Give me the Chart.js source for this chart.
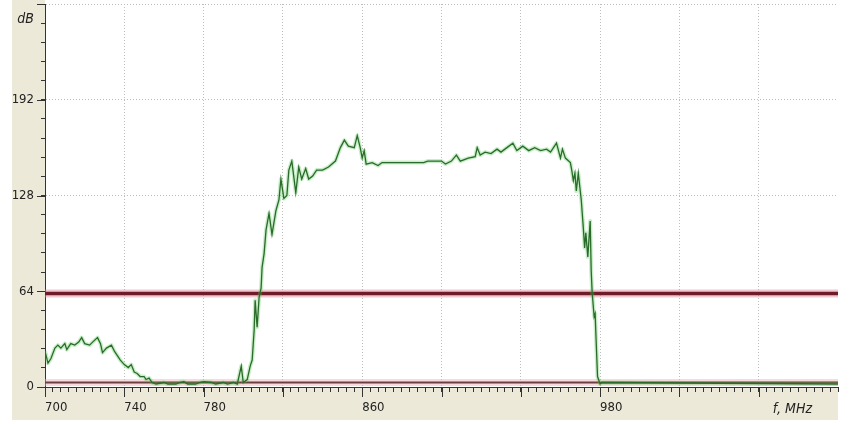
<!DOCTYPE html>
<html>
<head>
<meta charset="utf-8">
<script src="https://cdn.jsdelivr.net/npm/chart.js@4/dist/chart.umd.min.js"></script>
<style>
  html, body { margin: 0; padding: 0; background: #fff; }
  #wrap { width: 849px; height: 424px; position: relative; }
</style>
</head>
<body>
<div id="wrap"><canvas id="spectrum"></canvas></div>
<script>
// Spectrum trace (MHz -> dB)
const freqs = [
  700, 701.5, 703, 705, 706.5, 708, 710, 711, 713, 715, 717, 718.5, 720, 722.5, 724, 726.5, 728, 729,
  731, 733.5, 735, 736.5, 738, 740, 742, 743.5, 745, 746.5, 748, 750, 751, 752.5, 754, 756, 760, 762,
  766, 768, 770, 772, 776, 778, 780, 784, 786, 790, 792, 795, 797, 799, 800, 802, 803.5, 804.5, 805.5,
  806, 807, 808, 809, 809.5, 810.5, 811.5, 813, 814.5, 816.5, 818, 819, 820.5, 822, 823, 824.5, 826.5,
  828, 829.5, 831.5, 833, 835, 837, 840, 843, 846.5, 849, 851, 853, 856, 857.5, 859, 860, 861, 862,
  865, 868, 870, 891, 893, 900, 902, 905, 907.5, 909.5, 913.5, 917, 918, 919.5, 922, 925, 928, 930,
  933, 936, 938, 941, 944, 947, 950, 953, 955, 958, 960, 961, 962.5, 965, 965.7, 966.5, 967.3, 968,
  969, 970.5, 971.5, 972.2, 972.8, 973.8, 975, 975.5, 976, 977, 977.5, 978, 978.7, 980, 981, 1100
];
const levels = [
  24, 16, 19, 26, 28, 26, 29, 25, 29, 28, 30, 33, 29, 28, 30, 33, 29, 23,
  26, 28, 24, 21, 18, 15, 13, 15, 10, 9, 7, 7, 5, 6, 3, 2, 3, 2,
  2, 3, 3.5, 2, 2, 3, 3.5, 3, 2, 3, 2, 3, 2, 14, 3, 5, 14, 18, 38,
  58, 40, 60, 66, 80, 89, 105, 116, 102, 118, 125, 139, 126, 128, 145, 151, 130,
  147, 139, 146, 139, 141, 145, 145, 147, 151, 160, 165, 161, 160, 168, 160, 153, 158, 149,
  150, 148, 150, 150, 151, 151, 149, 151, 155, 151, 153, 154, 160, 155, 157, 156, 159, 157,
  160, 163, 158, 161, 158, 160, 158, 159, 157, 163, 153, 159, 153, 150, 145, 138, 143, 131,
  143, 125, 107, 93, 103, 87, 111, 78, 63, 47, 49, 31, 7, 2, 3, 2
];

// Horizontal reference lines
const thresholdLevel = 62.5;
const floorLevel = 3;

// Axes
const xRange = [700, 1100];
const yRange = [0, 256];
const xMinorStep = 4;
const xMajorStep = 40;
const yMinorStep = 12.8;
const yMajorStep = 64;
const xLabels = [700, 740, 780, 860, 980];
const yLabels = [0, 64, 128, 192];
const xGridValues = [740, 780, 820, 860, 900, 940, 980, 1020, 1060];
const yGridValues = [128, 192, 256];
const xTitle = "f, MHz";
const yTitle = "dB";

Chart.defaults.font.family = '"Liberation Sans Narrow", "DejaVu Sans Condensed", "Liberation Sans", sans-serif';
Chart.defaults.font.size = 13;
Chart.defaults.color = "#222";

const near = (v, list) => list.some((t) => Math.abs(t - v) < 0.01);
const trace = freqs.map((f, i) => ({ x: f, y: levels[i] }));
const flat = (lvl) => xRange.map((f) => ({ x: f, y: lvl }));

// Beige frame + white plot area, long major ticks, axis titles
const framePlugin = {
  id: "frame",
  beforeDraw(chart) {
    const { ctx, chartArea: a } = chart;
    ctx.save();
    ctx.fillStyle = "#fff";
    ctx.fillRect(0, 0, chart.width, chart.height);
    ctx.fillStyle = "#ece9d8";
    ctx.fillRect(a.left - 33, 0, a.right - a.left + 33, a.bottom + 33);
    ctx.fillStyle = "#fff";
    ctx.fillRect(a.left, 0, a.right - a.left, a.bottom);
    ctx.restore();
  },
  afterDraw(chart) {
    const { ctx, chartArea: a, scales } = chart;
    ctx.save();
    ctx.strokeStyle = "#333";
    ctx.lineWidth = 1;
    ctx.beginPath();
    for (let v = xRange[0]; v < xRange[1]; v += xMajorStep) {
      const px = Math.round(scales.x.getPixelForValue(v)) + 0.5;
      ctx.moveTo(px, a.bottom);
      ctx.lineTo(px, a.bottom + 10);
    }
    for (let v = yRange[0]; v <= yRange[1]; v += yMajorStep) {
      const py = Math.round(scales.y.getPixelForValue(v)) + 0.5;
      ctx.moveTo(a.left - 8, py);
      ctx.lineTo(a.left, py);
    }
    ctx.stroke();
    ctx.fillStyle = "#222";
    ctx.font = 'italic 14px "Liberation Sans Narrow", "DejaVu Sans Condensed", sans-serif';
    ctx.textAlign = "right";
    ctx.textBaseline = "middle";
    ctx.fillText(yTitle, a.left - 11, a.top + 15);
    ctx.fillText(xTitle, a.right - 26, a.bottom + 22);
    ctx.restore();
  }
};

new Chart(document.getElementById("spectrum"), {
  type: "line",
  data: {
    datasets: [
      { data: trace, borderColor: "#2a6a2a", borderWidth: 1.3 },
      { data: trace, borderColor: "rgba(70,200,70,0.3)", borderWidth: 4, borderJoinStyle: "round" },
      { data: flat(thresholdLevel), borderColor: "#6e1c2a", borderWidth: 3.5 },
      { data: flat(floorLevel), borderColor: "#6a4040", borderWidth: 2 },
      { data: flat(thresholdLevel), borderColor: "rgba(225,130,150,0.45)", borderWidth: 8 },
      { data: flat(floorLevel), borderColor: "rgba(240,170,180,0.45)", borderWidth: 7 }
    ]
  },
  options: {
    responsive: true,
    maintainAspectRatio: false,
    animation: false,
    layout: { padding: { left: 12, top: 4, right: 11, bottom: 4 } },
    elements: { point: { radius: 0 }, line: { tension: 0 } },
    plugins: { legend: { display: false }, tooltip: { enabled: false } },
    scales: {
      x: {
        type: "linear",
        min: xRange[0],
        max: xRange[1],
        afterFit(scale) {
          scale.height = 33;
          scale.paddingLeft = 0;
          scale.paddingRight = 0;
        },
        border: { color: "#333", width: 1, dash: [1, 2] },
        grid: {
          color: (c) => (c.tick && near(c.tick.value, xGridValues) ? "#bdbdbd" : "rgba(0,0,0,0)"),
          tickColor: "#333",
          tickLength: 5
        },
        ticks: {
          stepSize: xMinorStep,
          autoSkip: false,
          maxRotation: 0,
          align: "start",
          padding: 8,
          callback: (v) => (near(v, xLabels) ? String(Math.round(v)) : "")
        }
      },
      y: {
        min: yRange[0],
        max: yRange[1],
        afterFit(scale) {
          scale.width = 33;
          scale.paddingTop = 0;
          scale.paddingBottom = 0;
        },
        border: { color: "#333", width: 1, dash: [1, 2] },
        grid: {
          color: (c) => (c.tick && near(c.tick.value, yGridValues) ? "#bdbdbd" : "rgba(0,0,0,0)"),
          tickColor: "#333",
          tickLength: 4
        },
        ticks: {
          stepSize: yMinorStep,
          autoSkip: false,
          padding: 7,
          callback: (v) => (near(v, yLabels) ? String(Math.round(v)) : "")
        }
      }
    }
  },
  plugins: [framePlugin]
});
</script>
</body>
</html>
